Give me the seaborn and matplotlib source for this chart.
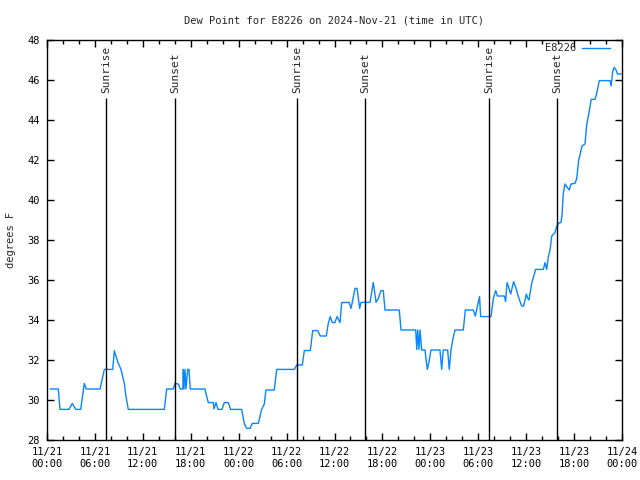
import pandas as pd
import matplotlib
matplotlib.use("Agg")
import matplotlib.pyplot as plt
import matplotlib.dates as mdates
import seaborn as sns

# hours since 2024-11-21 00:00 UTC, dew point in F
hours = [0.38, 1.41, 1.63, 2.75, 3.17, 3.59, 4.22, 4.67, 4.92, 6.64, 7.18, 8.23, 8.43, 8.58,
         8.93, 9.27, 9.68, 9.89, 10.18, 14.69, 14.99, 15.82, 16.03, 16.44, 16.69, 17.0, 17.07,
         17.15, 17.28, 17.4, 17.62, 17.78, 17.94, 19.78, 20.0, 20.2, 20.82, 20.9, 21.16, 21.41,
         21.91, 22.2, 22.7, 23.0, 24.38, 24.71, 24.79, 25.0, 25.42, 25.71, 26.46, 26.88, 27.21,
         27.42, 28.46, 28.76, 30.97, 31.27, 31.97, 32.22, 32.97, 33.27, 33.9, 34.22, 34.97,
         35.22, 35.47, 35.72, 36.06, 36.31, 36.69, 36.9, 37.82, 38.07, 38.57, 38.82, 39.15,
         39.32, 40.45, 40.86, 41.2, 41.49, 41.82, 42.11, 42.32, 44.11, 44.33, 46.17, 46.3,
         46.42, 46.58, 46.71, 46.92, 47.33, 47.62, 47.83, 48.08, 49.21, 49.42, 49.62, 50.17,
         50.37, 50.59, 50.84, 51.09, 52.13, 52.38, 53.38, 53.63, 53.97, 54.16, 54.3, 55.6,
         55.89, 56.19, 56.39, 57.26, 57.43, 57.6, 57.76, 58.06, 58.43, 58.73, 59.02, 59.44,
         59.69, 60.02, 60.2, 60.35, 60.69, 61.02, 61.19, 62.15, 62.36, 62.57, 62.78, 62.99,
         63.2, 63.61, 63.82, 64.15, 64.36, 64.49, 64.65, 64.86, 65.07, 65.4, 65.61, 66.12,
         66.33, 66.58, 66.74, 66.99, 67.37, 67.58, 67.79, 68.0, 68.13, 68.62, 68.83, 69.16,
         70.5, 70.63, 70.84, 71.01, 71.26, 71.44, 71.88]
dewpoint = [30.55, 30.55, 29.53, 29.53, 29.83, 29.53, 29.53, 30.83, 30.55, 30.55, 31.53, 31.53,
            32.47, 32.25, 31.83, 31.53, 30.83, 30.17, 29.53, 29.53, 30.55, 30.55, 30.83, 30.8,
            30.55, 30.55, 31.53, 30.55, 31.53, 30.55, 31.53, 31.53, 30.55, 30.55, 30.17, 29.87,
            29.87, 29.55, 29.87, 29.53, 29.53, 29.87, 29.87, 29.53, 29.53, 28.8, 28.75, 28.58,
            28.58, 28.83, 28.83, 29.53, 29.8, 30.5, 30.5, 31.53, 31.53, 31.75, 31.75, 32.47,
            32.47, 33.47, 33.47, 33.2, 33.2, 33.83, 34.17, 33.87, 33.87, 34.17, 33.87, 34.87,
            34.88, 34.58, 35.58, 35.58, 34.58, 34.88, 34.88, 35.88, 34.88, 35.08, 35.47, 35.47,
            34.5, 34.5, 33.5, 33.5, 32.53, 33.5, 32.53, 33.5, 32.5, 32.5, 31.53, 31.9, 32.5,
            32.5, 31.53, 32.5, 32.5, 31.53, 32.5, 33.08, 33.5, 33.5, 34.5, 34.5, 34.2, 34.83,
            35.17, 34.17, 34.17, 35.08, 35.47, 35.2, 35.2, 34.92, 35.87, 35.7, 35.3, 35.92,
            35.58, 35.17, 34.7, 34.7, 35.3, 35.08, 35.0, 35.83, 36.3, 36.53, 36.53, 36.87,
            36.53, 37.17, 37.5, 38.2, 38.37, 38.7, 38.87, 38.87, 39.25, 40.33, 40.8, 40.67,
            40.5, 40.8, 40.83, 41.08, 42.0, 42.25, 42.7, 42.8, 43.75, 44.2, 44.67, 45.03,
            45.03, 45.33, 45.97, 45.97, 45.7, 46.42, 46.63, 46.5, 46.3, 46.3]

sunrise_hours = [7.39, 31.30, 55.33]
sunset_hours = [16.03, 39.82, 63.86]

start = pd.Timestamp("2024-11-21 00:00")
df = pd.DataFrame({"time": start + pd.to_timedelta(hours, unit="h"), "dewpoint": dewpoint})

sns.set_style("ticks")
plt.rcParams["font.family"] = ["DejaVu Sans Mono"]
plt.rcParams["font.size"] = 7.5

fig = plt.figure(figsize=(6.4, 4.8), dpi=100)
ax = fig.add_axes([47 / 640, 40 / 480, 575 / 640, 400 / 480])

sns.lineplot(data=df, x="time", y="dewpoint", ax=ax, color="#0a84ff", linewidth=1,
             label="E8226")

for h in sunrise_hours:
    t = start + pd.Timedelta(hours=h)
    ax.vlines(t, 28, 45.1, color="black", linewidth=1)
    ax.text(t, 45.35, "Sunrise", rotation=90, ha="center", va="bottom", fontsize=8)
for h in sunset_hours:
    t = start + pd.Timedelta(hours=h)
    ax.vlines(t, 28, 45.1, color="black", linewidth=1)
    ax.text(t, 45.35, "Sunset", rotation=90, ha="center", va="bottom", fontsize=8)

ax.set_xlim(start, start + pd.Timedelta(hours=72))
ax.set_ylim(28, 48)
ax.set_yticks(range(28, 49, 2))
ax.xaxis.set_major_locator(mdates.HourLocator(byhour=[0, 6, 12, 18]))
ax.xaxis.set_minor_locator(mdates.HourLocator(interval=2))
ax.xaxis.set_major_formatter(mdates.DateFormatter("%m/%d\n%H:%M"))
ax.tick_params(which="both", direction="in", top=True, right=True, width=1, colors="black")
ax.tick_params(which="major", length=5, pad=5)
ax.tick_params(which="minor", length=3)
for s in ax.spines.values():
    s.set_linewidth(1)
    s.set_color("black")

ax.set_xlabel("")
ax.set_ylabel("degrees F", labelpad=8)
ax.set_title("Dew Point for E8226 on 2024-Nov-21 (time in UTC)", pad=12, fontsize=7.5)
ax.legend(loc="upper right", bbox_to_anchor=(1 - 8 / 575, 1 + 1 / 400), frameon=False,
          markerfirst=False, handlelength=2.7, borderaxespad=0, handletextpad=0.5)

fig.savefig("out.png", dpi=100)
